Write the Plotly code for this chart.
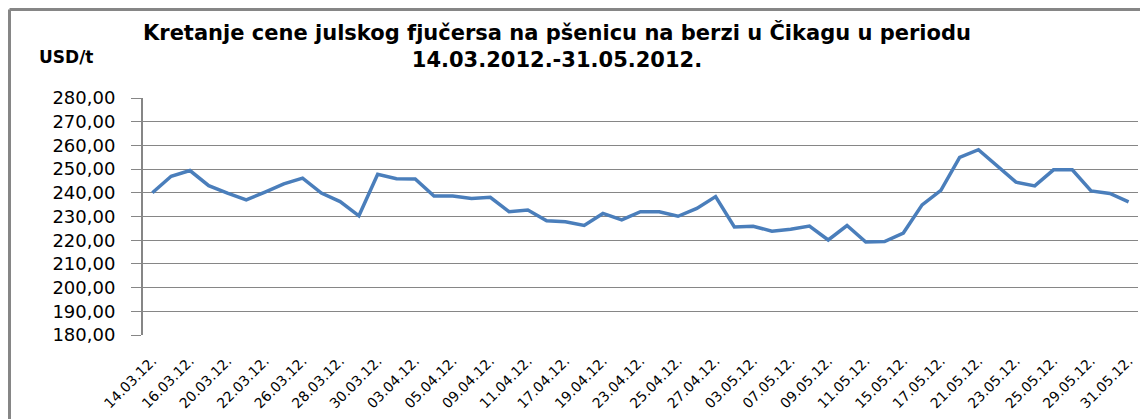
import plotly.graph_objects as go

dates = ["14.03.12.", "15.03.12.", "16.03.12.", "19.03.12.", "20.03.12.", "21.03.12.",
         "22.03.12.", "23.03.12.", "26.03.12.", "27.03.12.", "28.03.12.", "29.03.12.",
         "30.03.12.", "02.04.12.", "03.04.12.", "04.04.12.", "05.04.12.", "06.04.12.",
         "09.04.12.", "10.04.12.", "11.04.12.", "12.04.12.", "17.04.12.", "18.04.12.",
         "19.04.12.", "20.04.12.", "23.04.12.", "24.04.12.", "25.04.12.", "26.04.12.",
         "27.04.12.", "02.05.12.", "03.05.12.", "04.05.12.", "07.05.12.", "08.05.12.",
         "09.05.12.", "10.05.12.", "11.05.12.", "14.05.12.", "15.05.12.", "16.05.12.",
         "17.05.12.", "18.05.12.", "21.05.12.", "22.05.12.", "23.05.12.", "24.05.12.",
         "25.05.12.", "28.05.12.", "29.05.12.", "30.05.12.", "31.05.12."]

prices = [240.0, 247.0, 249.4, 243.0, 239.9, 237.0, 240.3, 243.8, 246.2, 239.9,
          236.3, 230.3, 247.8, 245.9, 245.8, 238.6, 238.6, 237.6, 238.1, 232.0,
          232.7, 228.2, 227.8, 226.2, 231.3, 228.6, 232.0, 232.0, 230.1, 233.4,
          238.4, 225.6, 225.9, 223.8, 224.6, 226.0, 220.1, 226.2, 219.2, 219.4,
          223.0, 234.9, 241.0, 254.9, 258.2, 251.1, 244.5, 242.9, 249.7, 249.7,
          240.8, 239.7, 236.2]

y_ticks = [180, 190, 200, 210, 220, 230, 240, 250, 260, 270, 280]
y_ticktext = [f"{v:.2f}".replace(".", ",") for v in y_ticks]

title_text = ("Kretanje cene julskog fjučersa na pšenicu na berzi u Čikagu u periodu"
              "<br>14.03.2012.-31.05.2012.")
unit_text = "USD/t"

x_idx = list(range(len(dates)))

# page has an 8px body margin; figure is sized to fit the 1148x419 window
W, H = 1140, 411
ML, MT, MR = 135, 90, 10
PH = 237
MB = H - MT - PH
PW = W - ML - MR


def px_x(page_x):
    return (page_x - 8 - ML) / PW


def px_y(page_y):
    return (8 + MT + PH - page_y) / PH


fig = go.Figure()
fig.add_trace(go.Scatter(
    x=x_idx, y=prices, mode="lines",
    line=dict(color="#4A7EBB", width=3.5),
    hoverinfo="y",
))

fig.update_layout(
    width=W, height=H,
    margin=dict(l=ML, r=MR, t=MT, b=MB, autoexpand=False),
    paper_bgcolor="white", plot_bgcolor="white",
    showlegend=False,
    font=dict(family="DejaVu Sans", color="black"),
    annotations=[
        dict(text=title_text, xref="paper", yref="paper",
             x=px_x(557), y=px_y(46), xanchor="center", yanchor="middle",
             showarrow=False, align="center",
             font=dict(family="DejaVu Sans", size=21, color="black", weight="bold")),
        dict(text=unit_text, xref="paper", yref="paper",
             x=px_x(37), y=px_y(57), xanchor="left", yanchor="middle",
             showarrow=False,
             font=dict(family="DejaVu Sans", size=17, color="black", weight="bold")),
    ],
    xaxis=dict(
        range=[-0.5, len(dates) - 0.5],
        tickmode="array",
        tickvals=x_idx[::2],
        ticktext=dates[::2],
        tickangle=-45,
        tickfont=dict(family="DejaVu Sans", size=14, color="black"),
        showgrid=False, zeroline=False, showline=False,
        ticks="",
        ticklabelstandoff=14,
    ),
    yaxis=dict(
        range=[180, 280],
        tickmode="array",
        tickvals=y_ticks,
        ticktext=y_ticktext,
        tickfont=dict(family="DejaVu Sans", size=18, color="black"),
        showgrid=True, gridcolor="#868686", gridwidth=1,
        zeroline=False,
        showline=True, linecolor="#868686", linewidth=2,
        ticks="outside", ticklen=10, tickcolor="#868686",
        ticklabelstandoff=12,
    ),
    shapes=[
        dict(type="line", xref="paper", yref="paper",
             x0=px_x(9.5), x1=px_x(1148),
             y0=px_y(9.5), y1=px_y(9.5),
             line=dict(color="#868686", width=3)),
        dict(type="line", xref="paper", yref="paper",
             x0=px_x(9.5), x1=px_x(9.5),
             y0=px_y(9.5), y1=px_y(419),
             line=dict(color="#868686", width=3)),
    ],
)

fig.write_html("out.html")
